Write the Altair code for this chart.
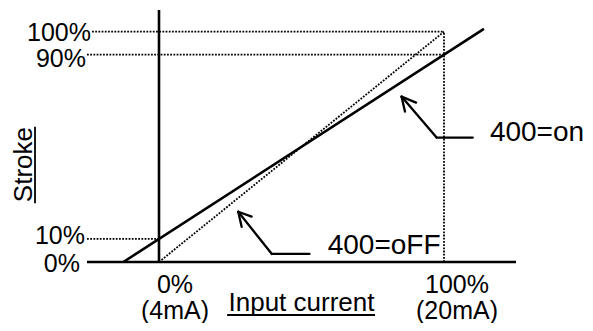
import altair as alt
import pandas as pd

FONT = "Liberation Sans"

# scale frame: input current (%) on x, stroke (%) on y
x_domain = [-25.26, 125.26]
y_domain = [0.0, 109.4]

# characteristic lines
on_x = [-12.5, 114.0]      # 400=on : 0% -> 10%, 100% -> 90%
on_y = [0.0, 101.2]
off_x = [0.0, 100.0]       # 400=oFF : 0% -> 0%, 100% -> 100%
off_y = [0.0, 100.0]

# dotted guides (horizontal)
guide_level = [100, 90, 10]
guide_from = [-23.5, -25.26, -25.26]
guide_to = [100, 100, 0]
# dotted guide (vertical at 100% input)
vguide_x = 100
vguide_top = 100

# tick labels
y_tick_labels = ["100%", "90%", "10%", "0%"]
y_tick_values = [100, 90, 10, 0]
x_tick_values = [0, 100]
x_tick_pct = ["0%", "100%"]
x_tick_ma = ["(4mA)", "(20mA)"]

# annotation arrows: tail -> bend -> tip, and head arms (arm -> tip -> arm)
on_arrow_x = [110.1, 97.4, 85.1]
on_arrow_y = [54.0, 54.0, 71.8]
on_head_x = [86.3, 85.1, 90.2]
on_head_y = [65.3, 71.8, 69.2]
off_arrow_x = [52.8, 39.6, 27.8]
off_arrow_y = [3.5, 3.5, 21.8]
off_head_x = [29.0, 27.8, 32.5]
off_head_y = [15.3, 21.8, 19.7]

# annotation texts
ann_text = ["400=on", "400=oFF"]
ann_x = [116.1, 59.2]
ann_y = [56.2, 7.0]

x_title = "Input current"
x_title_pos = [50.0, 0.0]
x_title_ul_x = [23.9, 75.8]
x_title_ul_y = -23.0
y_title = "Stroke"
y_title_pos = [-47.2, 42.3]
y_title_ul_x = -43.5
y_title_ul_y = [25.5, 58.7]

xs = alt.Scale(domain=x_domain, nice=False, zero=False)
ys = alt.Scale(domain=y_domain, nice=False, zero=False)


def segs(xs_list, ys_list):
    rows = []
    for i in range(len(xs_list) - 1):
        rows.append({"x": xs_list[i], "y": ys_list[i],
                     "x2": xs_list[i + 1], "y2": ys_list[i + 1]})
    return rows


def rules(rows, **mk):
    return alt.Chart(pd.DataFrame(rows)).mark_rule(color="black", **mk).encode(
        x=alt.X("x:Q", scale=xs, axis=None),
        y=alt.Y("y:Q", scale=ys, axis=None),
        x2="x2:Q",
        y2="y2:Q",
    )


def text(rows, **mk):
    return alt.Chart(pd.DataFrame(rows)).mark_text(font=FONT, color="black", **mk).encode(
        x=alt.X("x:Q", scale=xs, axis=None),
        y=alt.Y("y:Q", scale=ys, axis=None),
        text="t:N",
    )


# solid segments
solid = []
solid += segs([x_domain[0], x_domain[1]], [0, 0])          # x axis
solid += segs([0, 0], [0, y_domain[1]])                      # y axis
solid += segs(on_x, on_y)
thin_solid = []
thin_solid += segs(on_arrow_x, on_arrow_y)
thin_solid += segs(on_head_x, on_head_y)
thin_solid += segs(off_arrow_x, off_arrow_y)
thin_solid += segs(off_head_x, off_head_y)
underlines = []
underlines += segs(x_title_ul_x, [x_title_ul_y, x_title_ul_y])
underlines += segs([y_title_ul_x, y_title_ul_x], y_title_ul_y)

# dotted segments
dotted = []
for lv, a, b in zip(guide_level, guide_from, guide_to):
    dotted += segs([a, b], [lv, lv])
dotted += segs([vguide_x, vguide_x], [0, vguide_top])
dotted += segs(off_x, off_y)

layers = [
    rules(dotted, strokeWidth=1.8, strokeDash=[1.8, 1.4]),
    rules(solid, strokeWidth=2.6),
    rules(thin_solid, strokeWidth=2.3, strokeCap="round"),
    rules(underlines, strokeWidth=1.8),
]

# y tick labels (right aligned, left of guides)
y_dx = [4, -1, -2, -7]
y_dy = [1, 4, -3, 2]
for lab, v, dx, dy in zip(y_tick_labels, y_tick_values, y_dx, y_dy):
    layers.append(text([{"x": x_domain[0], "y": v, "t": lab}], align="right",
                       baseline="middle", fontSize=25, dx=dx, dy=dy))

# x tick labels
x_dx = [16, 13]
for v, p, m, dx in zip(x_tick_values, x_tick_pct, x_tick_ma, x_dx):
    layers.append(text([{"x": v, "y": 0, "t": p}], align="center", baseline="middle",
                       fontSize=25, dx=dx, dy=23))
    layers.append(text([{"x": v, "y": 0, "t": m}], align="center", baseline="middle",
                       fontSize=25, dx=dx, dy=48.5))

# titles
layers.append(text([{"x": x_title_pos[0], "y": x_title_pos[1], "t": x_title}],
                   align="center", baseline="middle", fontSize=26, dy=40.5))
layers.append(text([{"x": y_title_pos[0], "y": y_title_pos[1], "t": y_title}],
                   align="center", baseline="middle", fontSize=26, angle=270))

# annotations
for t, ax, ay in zip(ann_text, ann_x, ann_y):
    layers.append(text([{"x": ax, "y": ay, "t": t}], align="left", baseline="middle",
                       fontSize=28))

chart = alt.layer(*layers).properties(
    width=429,
    height=252,
    autosize=alt.AutoSizeParams(type="none"),
    padding={"left": 79, "top": 2, "right": 69, "bottom": 61},
    background="white",
).configure_view(stroke=None)

chart.save("out.html", embed_options={"renderer": "svg", "actions": False})
